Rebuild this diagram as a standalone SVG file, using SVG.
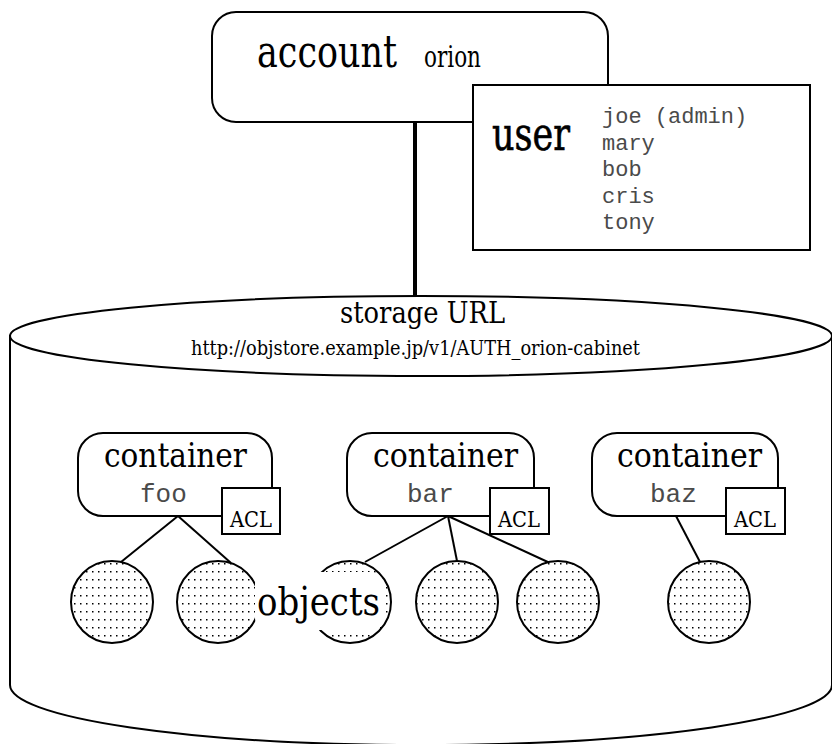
<svg xmlns="http://www.w3.org/2000/svg" width="832" height="744" viewBox="0 0 832 744">
<style>
.box{fill:#fff;stroke:#000;stroke-width:2}
.serif{font-family:"DejaVu Serif","Liberation Serif",serif;fill:#000}
.mono{font-family:"Liberation Mono","Courier New",monospace;fill:#4a4a4a}
.obj{fill:url(#dots);stroke:#000;stroke-width:2}
.link{stroke:#000;stroke-width:2;fill:none}
</style>
<defs>
<pattern id="dots" patternUnits="userSpaceOnUse" width="6" height="8">
<rect width="6" height="8" fill="#fff"/>
<rect x="2" y="3" width="1.5" height="1.5" fill="#000"/>
</pattern>
</defs>
<rect width="832" height="744" fill="#fff"/>
<g id="storage">
<path class="box" d="M10,336 L10,685 A411,60 0 0 0 832,685 L832,336 Z"/>
<ellipse class="box" cx="421" cy="336" rx="411" ry="40"/>
<text class="serif" x="340" y="323" font-size="30" textLength="165" lengthAdjust="spacingAndGlyphs">storage URL</text>
<text class="serif" x="191" y="355" font-size="19.5" textLength="449" lengthAdjust="spacingAndGlyphs">http://objstore.example.jp/v1/AUTH_orion-cabinet</text>
</g>
<g id="connectors">
<line x1="415" y1="122" x2="415" y2="296" stroke="#000" stroke-width="4"/>
<line class="link" x1="178" y1="516" x2="121" y2="562"/>
<line class="link" x1="178" y1="516" x2="231" y2="563"/>
<line class="link" x1="448" y1="516" x2="365" y2="562"/>
<line class="link" x1="448" y1="516" x2="457" y2="561"/>
<line class="link" x1="448" y1="516" x2="550" y2="563"/>
<line class="link" x1="676" y1="516" x2="700" y2="562"/>
</g>
<g id="account">
<rect class="box" x="212" y="12" width="396" height="110" rx="24"/>
<text class="serif" transform="translate(257,67) scale(0.794,1)" font-size="44">account</text>
<text class="serif" transform="translate(424,67) scale(0.743,1)" font-size="29">orion</text>
</g>
<g id="user">
<rect class="box" x="473" y="85" width="337" height="165"/>
<text class="serif" x="492" y="150" font-size="46" textLength="78" lengthAdjust="spacingAndGlyphs" stroke="#000" stroke-width="0.6">user</text>
<text class="mono" x="602" y="123" font-size="22">joe (admin)</text>
<text class="mono" x="602" y="149.5" font-size="22">mary</text>
<text class="mono" x="602" y="176" font-size="22">bob</text>
<text class="mono" x="602" y="202.5" font-size="22">cris</text>
<text class="mono" x="602" y="229" font-size="22">tony</text>
</g>
<g id="container-foo">
<rect class="box" x="78" y="433" width="194" height="83" rx="25"/>
<text class="serif" x="104" y="467" font-size="33" textLength="143" lengthAdjust="spacingAndGlyphs">container</text>
<text class="mono" x="140" y="502" font-size="26">foo</text>
<rect class="box" x="222" y="488" width="58" height="46"/>
<text class="serif" x="230" y="527" font-size="23" textLength="42" lengthAdjust="spacingAndGlyphs">ACL</text>
</g>
<g id="container-bar">
<rect class="box" x="347" y="433" width="187" height="83" rx="25"/>
<text class="serif" x="373" y="467" font-size="33" textLength="145" lengthAdjust="spacingAndGlyphs">container</text>
<text class="mono" x="407" y="502" font-size="26">bar</text>
<rect class="box" x="490" y="488" width="59" height="46"/>
<text class="serif" x="498" y="527" font-size="23" textLength="42" lengthAdjust="spacingAndGlyphs">ACL</text>
</g>
<g id="container-baz">
<rect class="box" x="592" y="433" width="186" height="83" rx="25"/>
<text class="serif" x="617" y="467" font-size="33" textLength="145" lengthAdjust="spacingAndGlyphs">container</text>
<text class="mono" x="650" y="502" font-size="26">baz</text>
<rect class="box" x="726" y="488" width="59" height="46"/>
<text class="serif" x="734" y="527" font-size="23" textLength="42" lengthAdjust="spacingAndGlyphs">ACL</text>
</g>
<g id="objects">
<circle class="obj" cx="112" cy="602" r="41"/>
<circle class="obj" cx="218" cy="602" r="41"/>
<circle class="obj" cx="350" cy="602" r="41"/>
<circle class="obj" cx="457" cy="602" r="41"/>
<circle class="obj" cx="558" cy="602" r="41"/>
<circle class="obj" cx="709" cy="602" r="41"/>
<rect x="255" y="572" width="128" height="58" rx="12" fill="#fff"/>
<text class="serif" x="257" y="615" font-size="40" textLength="123" lengthAdjust="spacingAndGlyphs">objects</text>
</g>
</svg>
